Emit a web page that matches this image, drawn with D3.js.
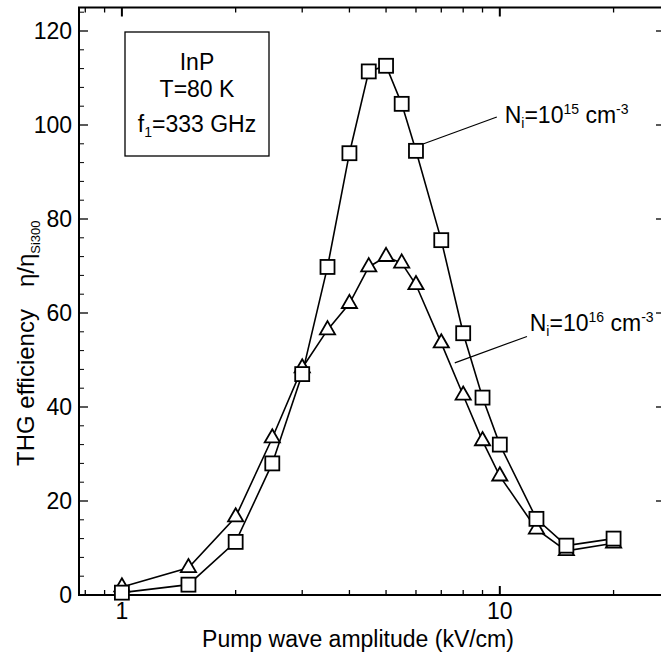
<!DOCTYPE html>
<html>
<head>
<meta charset="utf-8">
<script src="https://cdn.jsdelivr.net/npm/d3@7"></script>
<style>
  body { margin: 0; background: #fff; }
  svg { display: block; font-family: "Liberation Sans", Arial, sans-serif; }
</style>
</head>
<body>
<svg id="vis" width="661" height="655"></svg>
<script>
// field amplitude (kV/cm), shared by both series
const pumpField = [1, 1.5, 2, 2.5, 3, 3.5, 4, 4.5, 5, 5.5, 6, 7, 8, 9, 10, 12.5, 15, 20];
// THG efficiency, Ni = 1e15 cm^-3 (squares)
const eta15 = [0.5, 2.2, 11.3, 28, 47, 69.8, 94, 111.4, 112.6, 104.5, 94.5, 75.5, 55.7, 42, 32, 16.2, 10.5, 12];
// THG efficiency, Ni = 1e16 cm^-3 (triangles)
const eta16 = [1.7, 5.8, 16.6, 33.4, 48.3, 56.4, 62, 69.8, 72, 70.6, 66, 53.6, 42.5, 32.8, 25.3, 14, 9.4, 11];

const yTicks = [0, 20, 40, 60, 80, 100, 120];
const xTickLabels = [1, 10];

const MARGINS = {top: 7.5, right: 0, bottom: 60, left: 79};
const W = 661, H = 655;

var svg = d3.select("#vis");

var x = d3.scaleLog().domain([0.77, 26.7]).range([MARGINS.left, W - MARGINS.right]);
var y = d3.scaleLinear().domain([0, 125]).range([H - MARGINS.bottom, MARGINS.top]);

var x0 = x.range()[0], x1 = x.range()[1], yb = y.range()[0], yt = y.range()[1];

// minor / major ticks on the log axis
var xMinor = [0.8, 0.9, 2, 3, 4, 5, 6, 7, 8, 9, 20];
var yMinor = d3.range(0, 125, 4).filter(function(v){ return v % 20 !== 0; });

var ticks = svg.append("g").attr("stroke", "#000");
// bottom + top
xMinor.forEach(function(v){
    ticks.append("line").attr("x1", x(v)).attr("x2", x(v)).attr("y1", yb).attr("y2", yb - 5).attr("stroke-width", 1.3);
    ticks.append("line").attr("x1", x(v)).attr("x2", x(v)).attr("y1", yt).attr("y2", yt + 5).attr("stroke-width", 1.3);
});
xTickLabels.forEach(function(v){
    ticks.append("line").attr("x1", x(v)).attr("x2", x(v)).attr("y1", yb).attr("y2", yb - 9).attr("stroke-width", 2);
    ticks.append("line").attr("x1", x(v)).attr("x2", x(v)).attr("y1", yt).attr("y2", yt + 9).attr("stroke-width", 2);
});
// left + right
yMinor.forEach(function(v){
    ticks.append("line").attr("x1", x0).attr("x2", x0 + 5).attr("y1", y(v)).attr("y2", y(v)).attr("stroke-width", 1);
});
yTicks.forEach(function(v){
    ticks.append("line").attr("x1", x0).attr("x2", x0 + 9).attr("y1", y(v)).attr("y2", y(v)).attr("stroke-width", 1.3);
    ticks.append("line").attr("x1", x1 - 5).attr("x2", x1).attr("y1", y(v)).attr("y2", y(v)).attr("stroke-width", 1.3);
});

// frame
svg.append("path")
    .attr("d", `M${x1},${yt}H${x0}V${yb}H${x1}`)
    .attr("fill", "none").attr("stroke", "#000").attr("stroke-width", 2);

// tick labels
svg.append("g").selectAll("text").data(yTicks).enter().append("text")
    .attr("x", x0 - 7).attr("y", function(d){ return y(d) + 8; })
    .attr("text-anchor", "end").attr("font-size", 23).text(function(d){ return d; });
svg.append("g").selectAll("text").data(xTickLabels).enter().append("text")
    .attr("x", function(d){ return x(d); }).attr("y", yb + 24)
    .attr("text-anchor", "middle").attr("font-size", 23).text(function(d){ return d; });

// axis titles
svg.append("text").attr("x", 358).attr("y", 647).attr("text-anchor", "middle")
    .attr("font-size", 23).text("Pump wave amplitude (kV/cm)");

var yl = svg.append("text").attr("transform", "translate(34, 466) rotate(-90)")
    .attr("text-anchor", "start").attr("font-size", 24);
yl.append("tspan").text("THG efficiency");
yl.append("tspan").attr("dx", 22).text("\u03b7/\u03b7");
yl.append("tspan").attr("font-size", 13).attr("dy", 6).text("Si300");

// series lines
var line = d3.line().x(function(d){ return x(d[0]); }).y(function(d){ return y(d[1]); });
var sq = d3.zip(pumpField, eta15), tr = d3.zip(pumpField, eta16);
svg.append("path").attr("d", line(tr)).attr("fill", "none").attr("stroke", "#000").attr("stroke-width", 1.6);
svg.append("path").attr("d", line(sq)).attr("fill", "none").attr("stroke", "#000").attr("stroke-width", 1.6);

svg.append("g").selectAll("path").data(tr).enter().append("path")
    .attr("d", d3.symbol(d3.symbolTriangle, 100))
    .attr("transform", function(d){ return `translate(${x(d[0])},${y(d[1])})`; })
    .attr("fill", "#fff").attr("stroke", "#000").attr("stroke-width", 1.8);
svg.append("g").selectAll("rect").data(sq).enter().append("rect")
    .attr("x", function(d){ return x(d[0]) - 7; }).attr("y", function(d){ return y(d[1]) - 7; })
    .attr("width", 14).attr("height", 14)
    .attr("fill", "#fff").attr("stroke", "#000").attr("stroke-width", 1.8);

// series labels with leader lines (data coordinates)
const labels = [
    {exp: "15", tx: 10.3, ty: 100.4, from: [9.82, 101.7], to: [6.29, 96]},
    {exp: "16", tx: 12.0, ty: 56.2, from: [11.8, 55.0], to: [7.6, 49.4]}
];
labels.forEach(function(l){
    svg.append("line").attr("x1", x(l.from[0])).attr("y1", y(l.from[1]))
        .attr("x2", x(l.to[0])).attr("y2", y(l.to[1])).attr("stroke", "#000").attr("stroke-width", 1.2);
    var t = svg.append("text").attr("x", x(l.tx)).attr("y", y(l.ty)).attr("font-size", 23);
    t.append("tspan").text("N");
    t.append("tspan").attr("font-size", 14).attr("dy", 5).text("i");
    t.append("tspan").attr("dy", -5).text("=10");
    t.append("tspan").attr("font-size", 14).attr("dy", -9).text(l.exp);
    t.append("tspan").attr("dy", 9).text(" cm");
    t.append("tspan").attr("font-size", 14).attr("dy", -9).text("-3");
});

// inset box
svg.append("rect").attr("x", 125).attr("y", 32).attr("width", 144).attr("height", 124)
    .attr("fill", "none").attr("stroke", "#000").attr("stroke-width", 1.3);
var inset = svg.append("g").attr("font-size", 23).attr("text-anchor", "middle");
inset.append("text").attr("x", 197).attr("y", 70).text("InP");
inset.append("text").attr("x", 197).attr("y", 97).text("T=80 K");
var f1 = inset.append("text").attr("x", 197).attr("y", 132);
f1.append("tspan").text("f");
f1.append("tspan").attr("font-size", 14).attr("dy", 5).text("1");
f1.append("tspan").attr("dy", -5).text("=333 GHz");
</script>
</body>
</html>
